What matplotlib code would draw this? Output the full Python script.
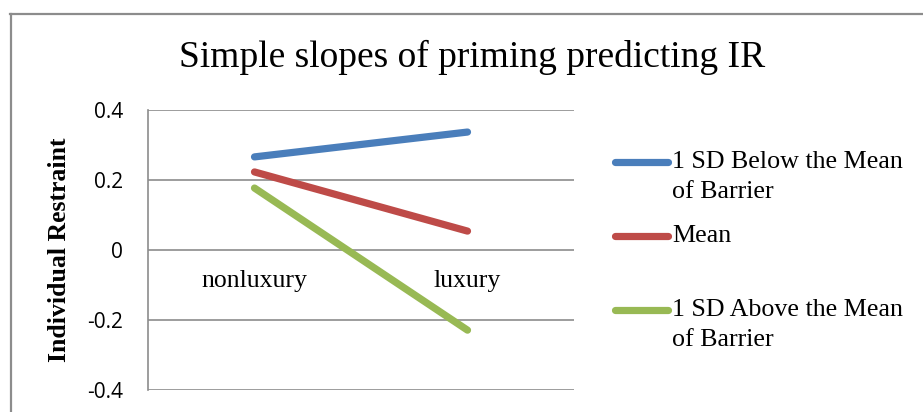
import matplotlib
matplotlib.use("Agg")
import matplotlib.pyplot as plt
from matplotlib.lines import Line2D

categories = ["nonluxury", "luxury"]
below_mean = [0.266, 0.337]
mean = [0.223, 0.054]
above_mean = [0.177, -0.229]
series_labels = [["1 SD Below the Mean", "of Barrier"], ["Mean"], ["1 SD Above the Mean", "of Barrier"]]
y_ticks = [-0.4, -0.2, 0, 0.2, 0.4]
y_tick_labels = ["-0.4", "-0.2", "0", "0.2", "0.4"]

colors = ["#4A7EBB", "#BE4B48", "#98B954"]
grid_color = "#8C8C8C"
serif = ["Liberation Serif", "DejaVu Serif"]

fig = plt.figure(figsize=(9.23, 4.12), dpi=100)
W, H = 923, 412

def fx(px):
    return px / W

def fy(py):
    return 1 - py / H

# chart frame
fig.add_artist(Line2D([fx(10), 1.0], [fy(13.5), fy(13.5)], color="#8C8C8C", lw=1.6))
fig.add_artist(Line2D([fx(10.5), fx(10.5)], [0.0, fy(13.5)], color="#8C8C8C", lw=1.6))

ax = fig.add_axes([fx(148), fy(390), fx(574 - 148), (390 - 110) / H])
x = [0.5, 1.5]
for vals, c in zip([below_mean, mean, above_mean], colors):
    ax.plot(x, vals, color=c, lw=5.2, solid_capstyle="round", zorder=3)

ax.set_xlim(0, 2)
ax.set_ylim(-0.4, 0.4)
ax.set_yticks(y_ticks)
ax.set_yticklabels(y_tick_labels, fontfamily="Open Sans", fontsize=15)
ax.tick_params(axis="y", length=0, pad=18)
ax.set_xticks([])
for y in y_ticks:
    ax.axhline(y, color=grid_color, lw=1.2, zorder=1)
for s in ["top", "right", "bottom"]:
    ax.spines[s].set_visible(False)
ax.spines["left"].set_color(grid_color)
ax.spines["left"].set_linewidth(1.2)

# category labels sit just below the zero line
for xi, cat in zip(x, categories):
    ax.text(xi, -0.09, cat, ha="center", va="center", fontfamily=serif, fontsize=18.5)

ax.set_ylabel("Individual Restraint", fontfamily=serif, fontweight="bold", fontsize=18.5)
ax.yaxis.set_label_coords((71 - 148) / (574 - 148), 0.5)

fig.text(fx(472), fy(57), "Simple slopes of priming predicting IR", ha="center", va="center",
         fontfamily=serif, fontsize=27)

# legend
handle_y = [162, 236, 310]
for hy, c, lines in zip(handle_y, colors, series_labels):
    fig.add_artist(Line2D([fx(615), fx(668)], [fy(hy), fy(hy)], color=c, lw=5.2,
                          solid_capstyle="round"))
    for i, line in enumerate(lines):
        fig.text(fx(672), fy(hy + 6 + 30 * i), line, ha="left", va="baseline",
                 fontfamily=serif, fontsize=18.7)

fig.savefig("out.png", dpi=100)
